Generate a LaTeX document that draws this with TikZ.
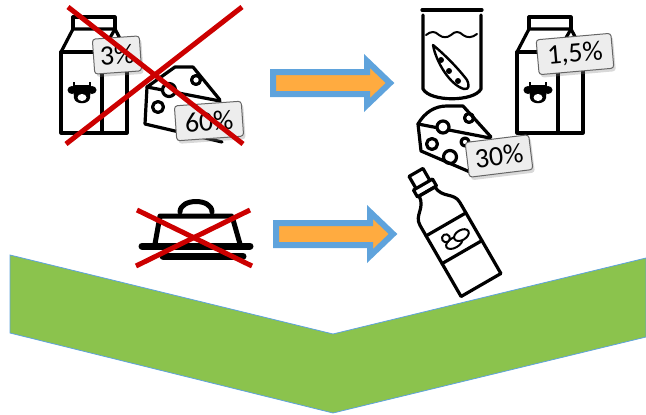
\documentclass[tikz,border=0pt]{standalone}
\usepackage{fontspec}
\setmainfont{Carlito}
\usepackage{xcolor}
\usetikzlibrary{shadows}

\definecolor{redx}{HTML}{CC0000}
\definecolor{bandgreen}{HTML}{8BC34D}
\definecolor{bandblue}{HTML}{5FA3DC}
\definecolor{arrorange}{HTML}{FFAB40}

\tikzset{
  icon/.style={draw=black, line width=3.2pt, line join=round, line cap=round},
  thinicon/.style={draw=black, line width=2pt, line join=round, line cap=round},
  cross/.style={draw=redx, line width=5pt},
  pct/.style={draw=black!60, line width=1pt, fill=black!7, rounded corners=3pt, inner sep=0pt,
              font=\fontsize{28}{28}\selectfont, minimum height=35pt,
              drop shadow={opacity=.3, shadow xshift=2pt, shadow yshift=-3pt}},
  swaparrow/.pic={
    \draw[draw=bandblue, fill=arrorange, line width=6pt, miter limit=10]
      (0,-11) -- (94,-11) -- (94,-22) -- (117,0) -- (94,22) -- (94,11) -- (0,11) -- cycle;
  },
  milk/.pic={
    \draw[icon] (0,0) rectangle (66,81);
    \draw[icon] (41,0) -- (41,81);
    \draw[icon] (0,0) -- (12,-23) -- (54,-23) -- (66,0);
    \draw[icon] (0,0) -- (41,0) -- (54,-23);
    \draw[icon] (12,-23) -- (12,-35) -- (54,-35) -- (54,-23);
    % cow head
    \fill[black] (12,33) -- (30,33) -- (29,46) .. controls (28,53) and (14,53) .. (13,46) -- cycle;
    \fill[black] (11,38) ellipse (4.5pt and 4pt) (31,38) ellipse (4.5pt and 4pt);
    \draw[black, line width=2.4pt] (13,34) -- (13,30) (29,34) -- (29,30);
    \fill[white] (21,45.5) ellipse (4.5pt and 3.5pt);
  },
  cheeseleft/.pic={
    \draw[icon] (147,87) -- (175,67) -- (193,67) -- (220,100);
    \draw[icon] (147,87) -- (145,124) -- (222,142);
    \draw[icon] (147,87) -- (220,101);
    \draw[icon, fill=white] (169,90) circle (6.5pt);
    \draw[icon] (158,107) circle (5.5pt);
    \draw[icon] (196,80) circle (4.5pt);
  },
  cheeseright/.pic={
    \draw[icon] (418,124) .. controls (425,112) and (435,106) .. (447,106) -- (463,106) -- (491,137);
    \draw[icon] (418,124) -- (421,151) -- (470,172);
    \draw[icon] (418,124) -- (490,138);
    \draw[icon, fill=white] (443,127) circle (6pt);
    \draw[icon] (432,144) circle (5.5pt);
    \draw[icon] (450,157) circle (6.5pt);
    \draw[icon] (469,118) circle (4.5pt);
    \draw[icon] (465,142) circle (4pt);
  },
  bottle/.pic={
    \draw[icon] (-23,0) -- (23,0) -- (23,-82) .. controls (23,-94) and (10,-94) .. (9,-108) -- (-9,-108)
      .. controls (-10,-94) and (-23,-94) .. (-23,-82) -- cycle;
    \draw[icon] (-23,-38) -- (23,-38) (-23,-70) -- (23,-70);
    \draw[icon] (-11,-108) -- (11,-108) -- (11,-116) -- (-11,-116) -- cycle;
    \draw[icon] (-8,-116) -- (-8,-130) -- (8,-130) -- (8,-116);
    \draw[thinicon] (-2,-50) ellipse (9pt and 5pt);
    \draw[thinicon, fill=white] (8,-53) ellipse (8pt and 5pt);
    \draw[thinicon, fill=white] (-7,-58) circle (4pt);
  }
}

\begin{document}
\begin{tikzpicture}[x=1pt, y=-1pt]
  \useasboundingbox (0,0) rectangle (646,415);

  % band at the bottom
  \draw[bandblue, line width=.8pt, fill=bandgreen] (10,255) -- (333,334) -- (646,258) -- (646,337)
    -- (333,413) -- (10,333) -- cycle;

  % top left
  \pic at (61,52) {milk};
  \pic {cheeseleft};
  \node[pct, rotate=4, minimum width=47pt] (fat3) at (117,55) {3\%};
  \node[pct, rotate=4, minimum width=67pt] (fat60) at (209,121) {60\%};
  \draw[cross] (68,7) -- (243,144);
  \draw[cross] (242,7) -- (66,144);

  % top right
  \draw[icon] (422,10) -- (482,10);
  \draw[icon] (423,15) -- (423,89) .. controls (430,102) and (474,102) .. (481,89) -- (481,15);
  \draw[icon, line width=2pt] (426,35) .. controls (431,31) and (435,31) .. (439,35)
    .. controls (443,38) and (447,38) .. (451,35) .. controls (455,31) and (459,31) .. (463,35)
    .. controls (467,38) and (472,38) .. (477,34);
  \draw[icon, line width=2.4pt] (433,45) .. controls (436,62) and (450,85) .. (464,89)
    .. controls (470,90) and (469,84) .. (467,80) .. controls (458,68) and (444,54) .. (433,45) -- cycle;
  \foreach \podx/\pody in {441/60, 449/71, 458/81}
    \fill[black] (\podx,\pody) circle (3pt);
  \pic at (517,52) {milk};
  \pic {cheeseright};
  \node[pct, rotate=5, minimum width=75pt] (fat15) at (575,54) {1,5\%};
  \node[pct, rotate=7, minimum width=64pt] (fat30) at (499,156) {30\%};

  % arrows
  \pic at (273,83) {swaparrow};
  \pic at (276,234) {swaparrow};

  % butter dish
  \draw[icon, line width=5pt] (180,212) .. controls (180,198) and (212,198) .. (212,212);
  \draw[icon, line width=5pt] (155,244) -- (160,216) -- (232,216) -- (240,244);
  \draw[icon, line width=7pt] (142,246) -- (250,246);
  \draw[icon, line width=7pt] (163,256) -- (243,256);
  \draw[cross] (137,210) -- (252,266);
  \draw[cross] (250,210) -- (136,266);

  % bottle
  \pic[rotate=30] at (481,285) {bottle};
\end{tikzpicture}
\end{document}
